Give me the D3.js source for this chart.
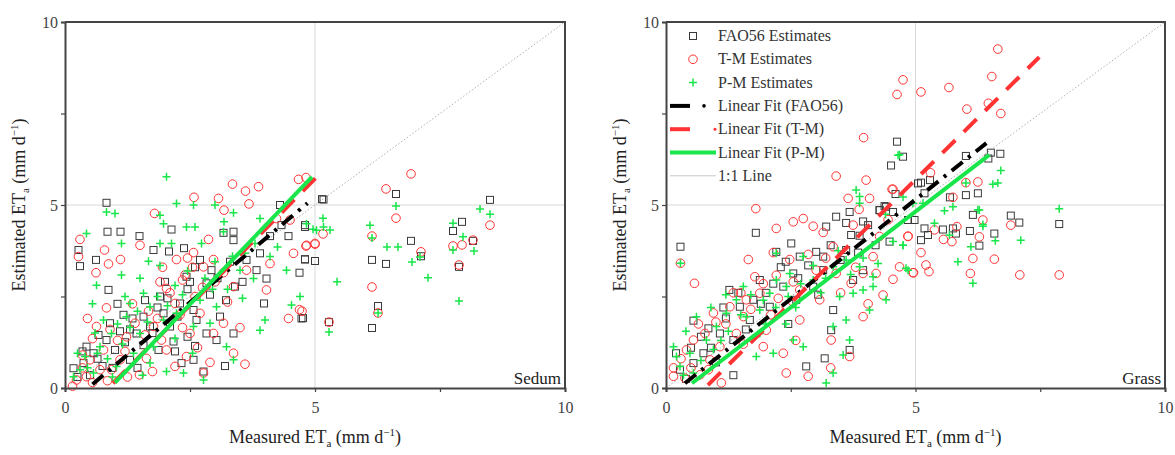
<!DOCTYPE html>
<html>
<head>
<meta charset="utf-8">
<script src="https://cdn.jsdelivr.net/npm/d3@7"></script>
<style>
  body { margin: 0; background: #fff; }
  svg { display: block; font-family: "Liberation Serif", "DejaVu Serif", serif; }
</style>
</head>
<body>
<svg id="chart" width="1175" height="455"></svg>
<script>
// axis ticks
var tickValues = [0, 2.5, 5, 7.5, 10];
var tickLabels = {0: "0", 5: "5", 10: "10"};

// ---- Sedum panel ----
var sedumFAO = [[0.83,5.06],[0.85,4.27],[1.11,4.27],[1.49,4.15],[0.27,3.77],[0.3,3.33],[0.62,3.5],[0.87,2.68],
  [1.77,3.77],[2.13,4.33],[2.38,3.82],[2.08,3.73],[3.17,4.24],[3.37,4.04],[3.37,4.27],[4.1,4.15],[4.3,5.0],
  [4.33,4.45],[4.47,4.15],[4.8,4.45],[4.8,3.51],[4.69,3.15],[4.03,2.99],[3.83,3.22],[3.4,2.77],[3.22,2.4],
  [3.98,2.31],[4.73,1.9],[5.17,5.15],[1.9,2.5],[2.43,3.04],[2.7,3.5],[2.93,3.22],[2.83,2.86],[2.3,2.31],
  [1.97,2.04],[1.57,1.95],[1.17,2.0],[0.9,1.77],[0.67,1.45],[0.83,1.31],[0.43,1.13],[0.37,0.68],[0.17,0.54],
  [0.57,0.95],[1.43,1.49],[1.7,1.68],[2.1,1.68],[2.57,2.13],[2.63,1.86],[3.1,1.95],[3.37,1.49],[3.03,1.31],
  [2.57,0.77],[2.77,0.45],[2.33,0.68],[1.87,1.04],[1.3,0.77],[1.0,1.04],[1.57,1.17],[2.17,1.27],[2.83,1.49],
  [3.9,3.68],[3.63,3.5],[2.45,2.7],[2.0,2.9],[1.3,1.6],[0.75,0.6],[1.2,1.25],
  [0.5,0.35],[0.65,0.8],[0.95,0.55],[1.1,1.55],[1.35,1.9],[1.6,2.4],[1.85,2.2],[2.05,2.45],[2.25,1.95],
  [2.5,2.9],[2.6,3.3],[2.9,2.55],[3.05,3.0],[3.3,3.45],[3.55,2.9],[2.45,1.4],[2.2,1.0],[1.45,0.55],[0.35,1.0],
  [0.25,0.3],[3.2,0.6],[2.6,1.15],[1.75,1.5],[1.05,2.3],
  [5.14,5.16],[6.62,5.3],[8.5,5.14],[7.94,4.54],[7.76,4.29],[6.92,4.02],[8.16,4.02],[4.8,4.4],[6.14,3.5],
  [6.42,3.39],[7.12,3.6],[7.88,3.31],[4.8,3.52],[6.26,2.24],[6.14,1.64],[5.28,1.8],[4.76,1.91],[5.0,3.47]];
var sedumTM = [[0.3,4.06],[0.27,3.59],[0.62,3.15],[0.79,3.77],[0.87,3.39],[1.11,3.51],[1.5,3.9],[1.79,4.77],
  [2.58,5.21],[3.18,4.86],[3.35,5.57],[3.61,5.38],[3.68,5.03],[3.87,5.5],[3.07,5.18],[2.87,4.06],[2.57,3.7],
  [2.23,3.51],[1.9,2.9],[2.03,2.72],[2.4,3.09],[2.77,3.31],[2.97,3.51],[3.17,3.15],[3.63,3.22],[4.1,3.4],
  [4.23,4.63],[4.5,4.59],[4.57,3.68],[4.83,3.9],[5.0,3.95],[4.69,2.14],[4.47,1.9],[4.03,2.68],[3.37,2.77],
  [0.83,2.19],[1.67,2.1],[1.4,1.77],[2.2,2.31],[2.7,2.04],[2.5,1.49],[2.97,1.49],[3.17,1.77],[3.37,0.95],
  [2.43,0.86],[2.03,1.04],[1.93,1.31],[1.63,0.81],[1.49,0.36],[1.1,0.77],[0.77,1.04],[0.5,0.77],[0.7,0.5],
  [0.23,0.22],[0.43,0.31],[0.63,1.68],[1.23,1.4],[2.2,0.59],[2.77,0.41],[4.67,5.7],[4.82,5.75],[0.93,0.5],
  [1.77,1.68],[2.6,2.5],[2.3,2.0],[1.05,1.3],[0.35,0.55],[0.15,0.05],[0.55,0.15],
  [0.35,0.9],[0.55,1.35],[0.9,1.6],[1.2,1.0],[1.35,2.3],[1.6,1.45],[1.85,1.9],[2.1,2.6],[2.35,2.95],
  [2.55,3.3],[2.75,2.75],[3.0,2.9],[3.25,2.35],[3.5,1.65],[2.65,1.1],[2.35,1.65],[2.9,0.7],[1.75,0.45],
  [1.25,0.3],[0.85,0.2],[2.45,3.55],[1.95,3.3],[0.45,1.9],[3.6,0.65],
  [6.92,5.85],[6.42,5.44],[6.62,4.64],[6.14,4.15],[7.12,3.72],[7.76,3.88],[7.94,3.91],[8.16,4.04],[8.5,4.45],
  [7.88,3.36],[6.14,2.76],[6.26,2.05],[5.28,1.8],[5.16,4.21],[5.0,3.93],[4.82,3.88],[4.74,2.1]];
var sedumPM = [[2.03,5.77],[0.83,4.81],[1.0,4.77],[0.43,4.22],[1.13,3.95],[1.9,4.72],[1.97,4.49],[2.23,5.04],
  [2.57,5.0],[3.0,5.0],[3.18,4.54],[3.37,4.79],[2.43,4.4],[2.6,4.4],[1.9,3.95],[1.67,3.46],[1.13,3.09],
  [0.63,2.81],[1.5,3.0],[2.13,3.95],[2.73,3.95],[3.17,4.27],[3.9,4.63],[3.6,3.68],[3.77,2.99],[4.1,3.59],
  [4.43,3.22],[4.7,2.5],[4.53,2.27],[3.9,1.58],[4.0,1.86],[4.83,4.49],[5.03,4.31],[5.17,4.4],[1.57,2.59],
  [1.2,2.5],[0.77,1.86],[1.3,2.31],[1.7,2.22],[1.97,1.86],[2.23,2.04],[2.7,2.4],[3.03,2.22],[3.23,1.13],
  [3.37,0.77],[2.77,0.22],[2.37,0.41],[2.03,0.45],[1.7,0.68],[1.37,0.95],[1.03,0.59],[0.57,0.41],[0.3,0.5],
  [0.17,0.31],[0.4,0.86],[0.7,1.13],[0.93,1.49],[1.23,1.95],[1.5,1.49],[1.77,1.13],[2.57,1.68],[2.9,1.77],
  [3.5,3.22],[0.25,0.95],[0.6,1.5],[1.15,1.2],[2.2,2.8],[2.95,2.7],
  [0.45,0.55],[0.65,0.95],[0.85,0.8],[1.05,1.75],[1.3,1.65],[1.45,2.1],[1.65,1.8],[1.85,2.5],[2.05,2.25],
  [2.35,2.55],[2.45,3.2],[2.8,3.0],[3.0,3.45],[3.25,2.7],[3.35,3.6],[3.55,2.45],[2.55,0.95],[2.2,1.35],
  [1.55,0.35],[0.95,0.3],[0.55,2.3],[1.9,3.35],[3.8,3.95],[4.25,3.85],
  [8.3,4.89],[8.5,4.75],[7.76,4.5],[7.96,4.13],[6.62,4.97],[6.1,4.45],[6.14,4.1],[6.44,3.85],[6.66,3.85],
  [6.94,3.44],[7.1,3.58],[7.26,3.01],[7.76,3.77],[8.18,3.74],[7.88,2.38],[5.44,2.9],[5.16,4.64],[4.96,4.34],
  [5.3,4.32],[6.26,2.05],[5.28,1.53]];

// ---- Grass panel ----
var grassFAO = [[0.29,3.86],[4.63,6.73],[4.75,6.32],[4.51,6.08],[1.8,4.24],[1.27,2.68],[0.55,1.84],[0.85,1.63],
  [3.21,4.41],[3.41,4.68],[3.61,4.51],[3.68,4.81],[3.71,4.18],[3.88,4.16],[4.28,4.86],[4.41,4.95],[4.55,4.81],
  [5.05,5.59],[4.48,4.0],[2.51,3.95],[2.68,3.59],[3.01,3.72],[3.15,3.59],[2.21,3.72],[1.88,2.95],[2.35,2.77],
  [2.08,2.22],[1.48,2.22],[1.68,1.86],[2.95,2.77],[2.61,2.41],[3.35,2.13],[3.31,1.58],[3.68,1.04],[2.81,0.59],
  [3.18,0.81],[3.95,3.22],[3.75,2.95],[3.15,3.22],[3.61,3.77],[2.55,3.13],[1.75,2.41],[1.08,1.49],[1.35,1.31],
  [0.75,0.95],[0.28,0.5],[0.55,0.68],[2.3,3.3],[2.0,2.6],[1.2,1.9],[0.9,1.1],[0.4,0.25],
  [0.5,1.1],[0.7,1.4],[1.0,0.7],[1.15,2.2],[1.45,2.6],[1.6,1.6],[1.9,2.3],[2.15,2.85],[2.4,3.45],[2.65,3.0],
  [2.85,3.35],[3.05,2.55],[3.3,3.9],[3.5,3.5],[3.85,3.7],[4.05,4.45],[4.2,3.9],[2.45,1.75],[1.35,0.35],
  [0.2,0.95],[4.6,5.3],[3.95,4.55],
  [5.11,5.61],[5.29,5.68],[5.18,5.32],[6.01,6.34],[6.51,6.43],[6.7,6.4],[6.46,6.27],[6.01,5.27],[6.25,5.32],
  [5.69,5.21],[4.28,4.86],[4.38,4.97],[6.15,4.73],[6.91,4.71],[7.08,4.52],[7.88,4.48],[5.18,4.36],[5.55,4.33],
  [5.75,4.36],[5.81,4.22],[6.09,4.29],[6.58,4.22],[6.28,3.89],[5.11,4.04],[5.25,4.18],[4.98,4.59],[4.85,4.59]];
var grassTM = [[3.96,6.84],[3.41,5.79],[4.01,5.68],[3.65,5.18],[4.08,5.18],[4.55,5.43],[3.87,4.88],[1.8,4.9],
  [2.21,4.36],[2.55,4.54],[2.75,4.63],[2.95,4.42],[3.75,4.45],[1.65,3.51],[1.78,3.04],[0.57,2.86],[0.29,3.41],
  [2.21,3.08],[3.35,3.86],[4.15,3.59],[4.85,4.14],[4.95,3.15],[4.55,2.97],[4.35,2.54],[3.95,1.95],[3.71,2.86],
  [3.95,3.13],[3.08,2.41],[2.68,2.68],[2.41,2.22],[2.01,1.58],[1.95,1.13],[2.35,0.95],[2.41,0.41],[2.85,0.32],
  [3.31,1.31],[3.68,0.86],[2.68,1.86],[1.55,1.95],[1.28,2.22],[1.41,1.49],[1.08,1.13],[0.88,0.77],[0.55,1.31],
  [0.41,1.04],[0.15,0.55],[0.15,0.32],[0.38,0.27],[0.68,0.36],[1.11,0.14],[0.78,1.49],[1.61,2.41],[1.88,2.59],
  [2.48,3.51],[3.01,3.22],[3.41,3.13],[4.21,3.13],[4.68,3.31],[4.28,4.14],[1.0,1.8],[1.5,2.6],[2.1,2.0],
  [0.3,0.8],[0.5,0.55],[0.65,1.75],[0.95,2.05],[1.2,1.75],[1.35,2.6],[1.7,2.15],[1.95,2.85],[2.25,2.45],
  [2.55,2.9],[2.85,3.65],[3.2,3.55],[3.5,2.6],[3.8,3.3],[4.05,2.3],[3.3,0.55],[2.6,1.3],[1.55,1.2],
  [2.15,3.7],[4.45,4.6],[3.15,4.25],[0.85,0.5],
  [6.65,9.26],[4.75,8.42],[4.63,8.02],[5.11,8.09],[5.67,8.21],[6.53,8.51],[6.03,7.62],[6.46,7.78],[6.71,7.5],
  [5.3,5.88],[4.53,5.43],[6.01,5.61],[6.25,5.63],[5.75,5.21],[4.85,4.15],[5.11,3.7],[5.21,3.36],[5.27,3.18],
  [4.96,3.15],[5.56,4.06],[5.73,4.0],[5.38,4.32],[5.83,4.41],[6.15,3.54],[6.1,3.13],[6.58,3.52],[6.35,4.59],
  [6.28,4.13],[6.91,4.45],[7.09,3.09],[7.88,3.09]];
var grassPM = [[0.29,3.41],[4.68,6.37],[3.88,5.23],[3.88,5.05],[2.21,3.68],[2.75,3.59],[3.35,3.31],[3.61,3.5],
  [3.88,3.31],[4.15,3.04],[4.55,4.0],[4.75,3.9],[4.81,3.27],[3.48,2.5],[3.75,2.59],[3.95,2.68],[4.08,2.13],
  [3.61,1.86],[3.35,1.68],[2.75,1.13],[3.68,1.31],[3.35,0.41],[3.21,0.14],[2.55,1.31],[2.15,0.95],[1.81,0.86],
  [1.88,1.49],[1.61,1.95],[1.41,2.41],[1.21,2.04],[1.01,1.68],[0.61,1.95],[0.81,1.31],[0.48,0.95],[0.21,0.86],
  [0.15,1.13],[0.28,0.59],[0.55,0.41],[2.08,2.59],[2.41,2.77],[2.95,2.95],[2.48,3.13],[2.21,2.95],[1.88,2.13],
  [1.55,2.77],[4.41,2.41],[4.15,2.77],[3.81,5.41],[1.1,1.3],[0.9,2.2],[2.6,2.2],[3.1,2.6],
  [0.35,0.35],[0.7,0.75],[0.95,1.05],[1.25,1.55],[1.5,2.0],[1.7,2.55],[1.95,2.4],[2.2,2.2],[2.45,2.5],
  [2.7,2.85],[2.95,3.35],[3.2,3.0],[3.45,3.75],[3.7,3.1],[3.95,3.55],[4.25,3.4],[2.4,1.75],[1.2,2.55],
  [0.4,1.55],[4.4,4.75],[2.0,1.75],[3.55,0.9],
  [4.65,6.36],[6.71,5.94],[6.55,5.57],[6.65,5.6],[7.88,4.9],[5.75,4.95],[5.58,4.84],[6.01,5.6],[4.75,5.22],
  [4.95,5.05],[5.15,5.05],[6.25,4.87],[6.35,4.47],[4.75,3.9],[4.85,3.22],[5.85,3.45],[6.15,2.86],[6.11,3.86],
  [6.6,4.02],[7.11,4.04],[6.28,4.86],[5.38,4.5],[5.68,4.18],[6.35,4.42]];

// fitted lines: [x1, y1, x2, y2]
var sedumFitFAO = [0.55, 0.1, 4.85, 5.05];
var sedumFitTM = [0.96, 0.13, 5.06, 5.8];
var sedumFitPM = [1.0, 0.15, 4.94, 5.77];
var grassFitFAO = [0.38, 0.13, 6.42, 6.69];
var grassFitTM = [0.84, 0.08, 7.48, 9.04];
var grassFitPM = [0.52, 0.13, 6.48, 6.37];

var legendLabels = ["FAO56 Estimates", "T-M Estimates", "P-M Estimates", "Linear Fit (FAO56)",
  "Linear Fit (T-M)", "Linear Fit (P-M)", "1:1 Line"];

var svg = d3.select("#chart");
var plotTop = 22, plotBottom = 388;

var green = "#19e64a", red = "#ff3333", dark = "#3a3a3a";

function drawPanel(left, right, name, fao, tm, pm, fFao, fTm, fPm, legend) {
    var x = d3.scaleLinear().domain([0, 10]).range([left, right]);
    var y = d3.scaleLinear().domain([0, 10]).range([plotBottom, plotTop]);
    var g = svg.append("g");

    // grid at 5
    g.append("line").attr("x1", x(5)).attr("x2", x(5)).attr("y1", y(0)).attr("y2", y(10))
        .attr("stroke", "#d8d8d8").attr("stroke-width", 1);
    g.append("line").attr("x1", x(0)).attr("x2", x(10)).attr("y1", y(5)).attr("y2", y(5))
        .attr("stroke", "#d8d8d8").attr("stroke-width", 1);

    // 1:1 line
    g.append("line").attr("x1", x(0)).attr("y1", y(0)).attr("x2", x(10)).attr("y2", y(10))
        .attr("stroke", "#b0b0b0").attr("stroke-width", 1).attr("stroke-dasharray", "1.5,2");

    // squares
    g.selectAll("rect.fao").data(fao).enter().append("rect")
        .attr("x", function (d) { return x(d[0]) - 3.5; })
        .attr("y", function (d) { return y(d[1]) - 3.5; })
        .attr("width", 7).attr("height", 7)
        .attr("fill", "none").attr("stroke", dark).attr("stroke-width", 1);

    // circles
    g.selectAll("circle.tm").data(tm).enter().append("circle")
        .attr("cx", function (d) { return x(d[0]); })
        .attr("cy", function (d) { return y(d[1]); })
        .attr("r", 4.3)
        .attr("fill", "none").attr("stroke", red).attr("stroke-width", 1);

    // crosses
    g.selectAll("path.pm").data(pm).enter().append("path")
        .attr("d", function (d) {
            var cx = x(d[0]), cy = y(d[1]);
            return "M" + (cx - 4) + "," + cy + "H" + (cx + 4) + "M" + cx + "," + (cy - 4) + "V" + (cy + 4);
        })
        .attr("stroke", green).attr("stroke-width", 1.5);

    // fit lines
    function fit(f, color, dash) {
        g.append("line").attr("x1", x(f[0])).attr("y1", y(f[1])).attr("x2", x(f[2])).attr("y2", y(f[3]))
            .attr("stroke", color).attr("stroke-width", 4).attr("stroke-dasharray", dash)
            .attr("stroke-linecap", "butt");
    }
    fit(fFao, "#000", "14,7,3,7");
    fit(fTm, red, "18,12");
    fit(fPm, green, null);

    // axes
    var xAxis = d3.axisBottom(x).tickValues(tickValues).tickSize(4)
        .tickFormat(function (d) { return tickLabels[d] || ""; });
    var yAxis = d3.axisLeft(y).tickValues(tickValues).tickSize(4)
        .tickFormat(function (d) { return tickLabels[d] || ""; });
    var gx = g.append("g").attr("transform", "translate(0," + plotBottom + ")").call(xAxis);
    var gy = g.append("g").attr("transform", "translate(" + left + ",0)").call(yAxis);
    [gx, gy].forEach(function (a) {
        a.select(".domain").attr("stroke", "#444").attr("stroke-width", 2);
        a.selectAll(".tick line").attr("stroke", "#444").attr("stroke-width", 1.2);
        a.selectAll(".tick text").attr("font-family", "Liberation Serif, serif")
            .attr("font-size", 16).attr("fill", "#444");
    });
    gx.selectAll(".tick text").attr("dy", "1.1em");
    // top/right frame
    g.append("path").attr("d", "M" + left + "," + plotTop + "H" + right + "V" + plotBottom)
        .attr("fill", "none").attr("stroke", "#444").attr("stroke-width", 2);

    // panel name
    g.append("text").attr("x", right - 4).attr("y", plotBottom - 4).attr("text-anchor", "end")
        .attr("font-size", 17).attr("fill", "#222").text(name);

    // axis titles
    var xt = g.append("text").attr("x", (left + right) / 2).attr("y", 443).attr("text-anchor", "middle")
        .attr("font-size", 18).attr("fill", "#222");
    xt.append("tspan").text("Measured ET");
    xt.append("tspan").attr("font-size", 11).attr("dy", 4).text("a");
    xt.append("tspan").attr("dy", -4).text(" (mm d");
    xt.append("tspan").attr("font-size", 11).attr("dy", -7).text("\u22121");
    xt.append("tspan").attr("dy", 7).text(")");

    var yt = g.append("text").attr("transform", "translate(" + (left - 40) + "," + ((plotTop + plotBottom) / 2) + ") rotate(-90)")
        .attr("text-anchor", "middle").attr("font-size", 18).attr("fill", "#222");
    yt.append("tspan").text("Estimated ET");
    yt.append("tspan").attr("font-size", 11).attr("dy", 4).text("a");
    yt.append("tspan").attr("dy", -4).text(" (mm d");
    yt.append("tspan").attr("font-size", 11).attr("dy", -7).text("\u22121");
    yt.append("tspan").attr("dy", 7).text(")");

    if (legend) {
        var lx = left + 4, tx = left + 52, ly0 = 36, step = 23.3;
        var lg = g.append("g");
        legendLabels.forEach(function (lab, i) {
            var ly = ly0 + i * step;
            lg.append("text").attr("x", tx).attr("y", ly + 5).attr("font-size", 16).attr("fill", "#333").text(lab);
        });
        var cx = left + 27;
        lg.append("rect").attr("x", cx - 3.5).attr("y", ly0 - 3.5).attr("width", 7).attr("height", 7)
            .attr("fill", "none").attr("stroke", dark);
        lg.append("circle").attr("cx", cx).attr("cy", ly0 + step).attr("r", 4.3)
            .attr("fill", "none").attr("stroke", red);
        lg.append("path").attr("d", "M" + (cx - 4) + "," + (ly0 + 2 * step) + "h8M" + cx + "," + (ly0 + 2 * step - 4) + "v8")
            .attr("stroke", green).attr("stroke-width", 1.5);
        // FAO56 fit sample: dash + dot
        lg.append("line").attr("x1", lx).attr("x2", lx + 20).attr("y1", ly0 + 3 * step).attr("y2", ly0 + 3 * step)
            .attr("stroke", "#000").attr("stroke-width", 4);
        lg.append("circle").attr("cx", lx + 34).attr("cy", ly0 + 3 * step).attr("r", 1.8).attr("fill", "#000");
        // T-M fit sample
        lg.append("line").attr("x1", lx).attr("x2", lx + 20).attr("y1", ly0 + 4 * step).attr("y2", ly0 + 4 * step)
            .attr("stroke", red).attr("stroke-width", 4);
        lg.append("circle").attr("cx", lx + 45).attr("cy", ly0 + 4 * step).attr("r", 1.5).attr("fill", red);
        // P-M fit sample
        lg.append("line").attr("x1", lx).attr("x2", lx + 46).attr("y1", ly0 + 5 * step).attr("y2", ly0 + 5 * step)
            .attr("stroke", green).attr("stroke-width", 4);
        // 1:1
        lg.append("line").attr("x1", lx).attr("x2", lx + 46).attr("y1", ly0 + 6 * step).attr("y2", ly0 + 6 * step)
            .attr("stroke", "#c8c8c8").attr("stroke-width", 1);
    }
}

drawPanel(65, 565, "Sedum", sedumFAO, sedumTM, sedumPM, sedumFitFAO, sedumFitTM, sedumFitPM, false);
drawPanel(666, 1165, "Grass", grassFAO, grassTM, grassPM, grassFitFAO, grassFitTM, grassFitPM, true);
</script>
</body>
</html>
